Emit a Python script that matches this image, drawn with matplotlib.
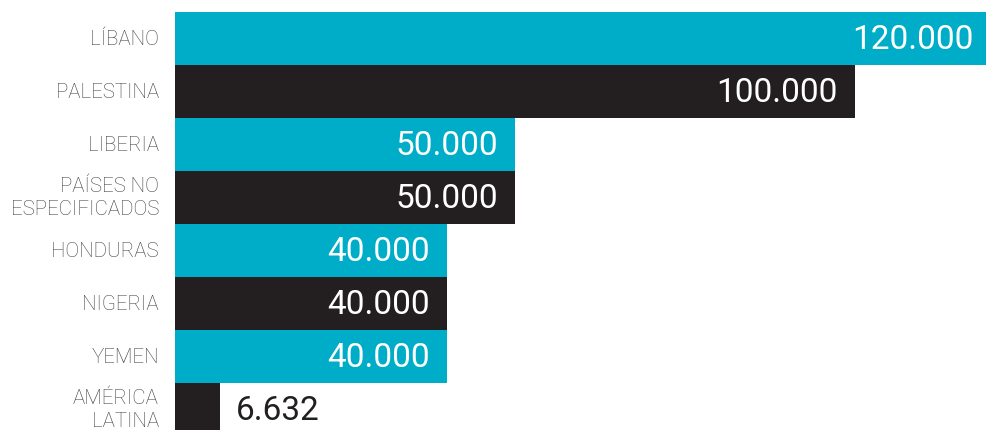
import matplotlib
matplotlib.use("Agg")
import matplotlib.pyplot as plt

# data
countries = ["LÍBANO", "PALESTINA", "LIBERIA", "PAÍSES NO\nESPECIFICADOS",
             "HONDURAS", "NIGERIA", "YEMEN", "AMÉRICA\nLATINA"]
values = [120000, 100000, 50000, 50000, 40000, 40000, 40000, 6632]
value_labels = ["120.000", "100.000", "50.000", "50.000",
                "40.000", "40.000", "40.000", "6.632"]

CYAN = "#00ADC8"
DARK = "#231F20"
colors = [CYAN if i % 2 == 0 else DARK for i in range(len(values))]

plt.rcParams['font.family'] = ['Roboto', 'DejaVu Sans']

fig = plt.figure(figsize=(9.86, 4.31), dpi=100)
ax = fig.add_axes([175 / 986, 0, 1 - 175 / 986, 1 - 12.5 / 431])

ypos = list(range(len(values)))
ax.barh(ypos, values, height=1.0, color=colors, linewidth=0)

ax.set_xlim(0, 119300)
ax.set_ylim(7.396, -0.5)
ax.axis("off")

for y, v, lab, name in zip(ypos, values, value_labels, countries):
    if v > 20000:
        ax.annotate(lab, (v, y), xytext=(-17, -1), textcoords="offset pixels",
                    ha="right", va="center", color="white", fontsize=24,
                    fontweight="normal", annotation_clip=False)
    else:
        ax.annotate(lab, (v, y), xytext=(16, -1), textcoords="offset pixels",
                    ha="left", va="center", color=DARK, fontsize=24,
                    fontweight="normal", annotation_clip=False)
    ax.annotate(name, (0, y), xytext=(-16, 0), textcoords="offset pixels",
                ha="right", va="center", color="#444444", fontsize=14.8,
                fontweight="light", linespacing=1.3, multialignment="right",
                annotation_clip=False)

fig.savefig("out.png", dpi=100)
